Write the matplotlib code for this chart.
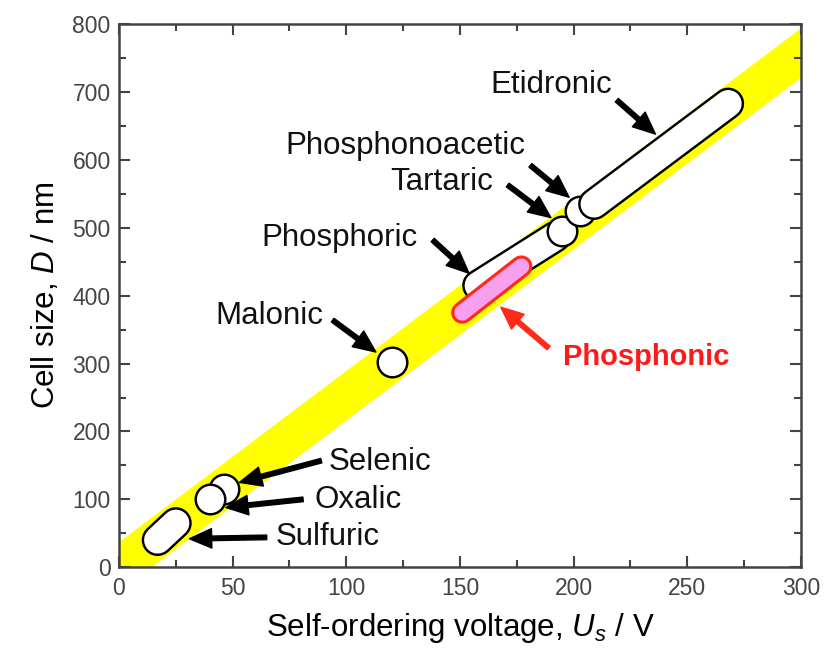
import numpy as np
import matplotlib
matplotlib.use('Agg')
import matplotlib.pyplot as plt

plt.rcParams['font.family'] = ['Liberation Sans', 'DejaVu Sans']
plt.rcParams['mathtext.fontset'] = 'custom'
plt.rcParams['mathtext.rm'] = 'Liberation Sans'
plt.rcParams['mathtext.it'] = 'Liberation Sans:italic'

# yellow band edges (U in V, D in nm)
band_u = [0, 300]
band_upper = [38, 795]
band_lower = [-35, 722]

# each acid: start/end of the (U, D) range
acids = ['Sulfuric', 'Oxalic', 'Selenic', 'Malonic', 'Phosphoric', 'Tartaric', 'Phosphonoacetic', 'Etidronic']
u_start = [17, 40, 46, 120, 158, 195, 203, 209]
u_end = [25, 40, 46, 120, 192, 195, 203, 268]
d_start = [40, 100, 115, 302, 415, 495, 525, 535]
d_end = [65, 100, 115, 302, 487, 495, 525, 683]
# order of drawing so overlaps look right
draw_order = ['Selenic', 'Oxalic', 'Sulfuric', 'Malonic', 'Phosphoric', 'Tartaric', 'Phosphonoacetic', 'Etidronic']

phosphonic_u = [151, 177]
phosphonic_d = [375, 443]

# label text position and arrow tail/head
label_u = [92, 105, 115, 66, 97, 142, 126, 190]
label_d = [44, 99, 155, 370, 485, 567, 621, 710]
tail_u = [65, 81, 89, 94, 138, 171, 181, 219]
tail_d = [44, 100, 157, 364, 482, 563, 592, 688]
head_u = [31, 47, 53, 113, 154, 190, 198, 236]
head_d = [42, 88, 125, 317, 433, 515, 545, 638]

ph_label = (232, 309)
ph_tail = (189, 323)
ph_head = (168, 383)

fig = plt.figure(figsize=(8.24, 6.52), dpi=100)
ax = fig.add_axes([0.1444, 0.130, 0.8276, 0.833])

ax.fill_between(band_u, band_lower, band_upper, color='#ffff00', lw=0, zorder=1)

z = 2
for name in draw_order:
	i = acids.index(name)
	us = [u_start[i], u_end[i]]
	ds = [d_start[i], d_end[i]]
	if us[0] == us[1] and ds[0] == ds[1]:
		# single voltage -> plain circle
		ax.plot(us[:1], ds[:1], 'o', ms=21.3, mfc='white', mec='black', mew=1.75, zorder=z)
	else:
		ax.plot(us, ds, color='black', lw=23, solid_capstyle='round', zorder=z)
		ax.plot(us, ds, color='white', lw=19.5, solid_capstyle='round', zorder=z)
	z += 0.01

ax.plot(phosphonic_u, phosphonic_d, color='#ff2a1a', lw=16, solid_capstyle='round', zorder=3)
ax.plot(phosphonic_u, phosphonic_d, color='#f7a0f0', lw=11.5, solid_capstyle='round', zorder=3)

for i in range(len(acids)):
	ax.annotate('', xy=(head_u[i], head_d[i]), xytext=(tail_u[i], tail_d[i]),
		arrowprops=dict(facecolor='black', edgecolor='black', width=3.3, headwidth=14, headlength=16, shrink=0),
		zorder=4)
	ax.text(label_u[i], label_d[i], acids[i], fontsize=22.5, ha='center', va='center', color='#111111', zorder=5)

ax.annotate('', xy=ph_head, xytext=ph_tail,
	arrowprops=dict(facecolor='#ff2a1a', edgecolor='#ff2a1a', width=3.3, headwidth=14, headlength=16, shrink=0),
	zorder=4)
ax.text(ph_label[0], ph_label[1], 'Phosphonic', fontsize=21, fontweight='bold', ha='center', va='center',
	color='#ff1a1a', zorder=5)

ax.set_xlim(0, 300)
ax.set_ylim(0, 800)
ax.set_xticks(np.arange(0, 301, 50))
ax.set_xticks(np.arange(0, 301, 25), minor=True)
ax.set_yticks(np.arange(0, 801, 100))
ax.set_yticks(np.arange(0, 801, 50), minor=True)
ax.tick_params(which='both', direction='in', top=True, right=True, color='#444444', width=1.5,
	labelsize=16.5, labelcolor='#444444')
ax.tick_params(which='major', length=8)
ax.tick_params(which='minor', length=5)
ax.tick_params(axis='y', pad=6)
ax.tick_params(axis='x', pad=7)
for s in ax.spines.values():
	s.set_linewidth(1.8)
	s.set_color('#444444')

ax.set_xlabel('Self-ordering voltage, $U_s$ / V', fontsize=22.5, labelpad=8)
ax.set_ylabel('Cell size, $D$ / nm', fontsize=22.5, labelpad=8)

fig.savefig('out.png', dpi=100)
